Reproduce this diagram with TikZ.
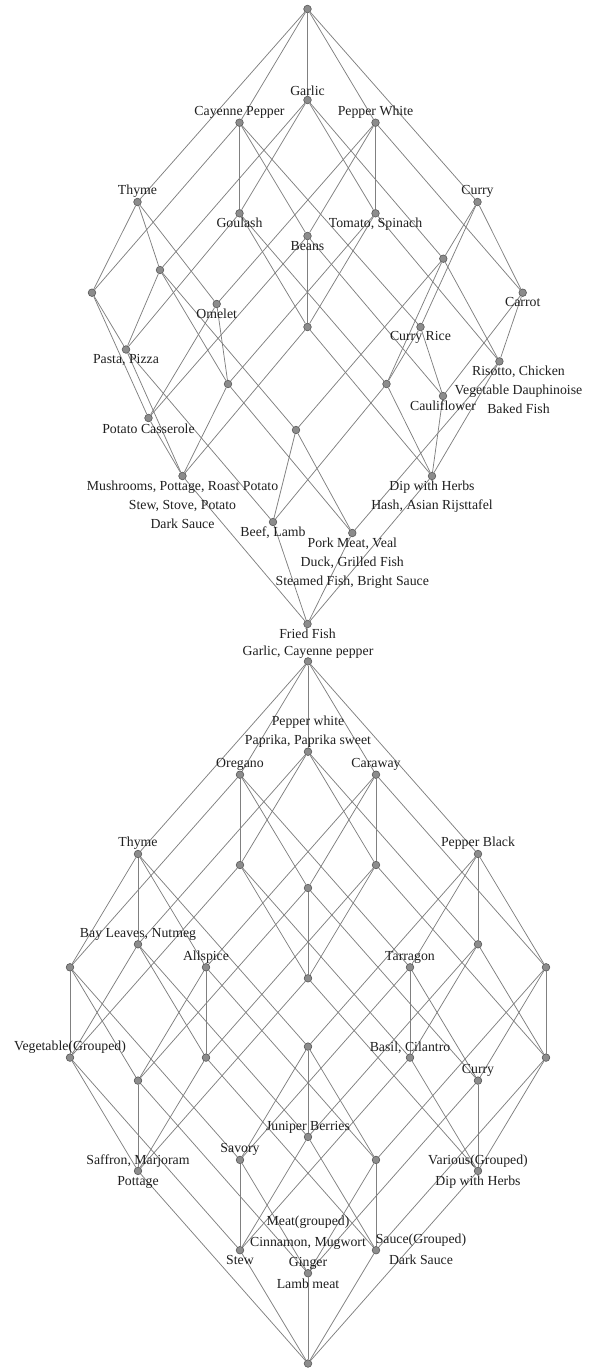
\documentclass[tikz,border=0pt]{standalone}
\usepackage{fontspec}
\setmainfont{Liberation Serif}
\begin{document}
\begin{tikzpicture}[x=1pt,y=-1pt,
  vtx/.style={circle,draw=black!66,fill=black!45,line width=0.6pt,inner sep=0pt,minimum size=7.6pt},
  lbl/.style={font=\fontsize{13.8}{19}\selectfont,text=black!88,inner sep=0pt,text height=10.6pt,text depth=2pt},
  edge/.style={draw=black!50,line width=0.75pt}]
\useasboundingbox (0,0) rectangle (591,1368);

% ---------- first lattice: nodes ----------
\node[vtx] (aTop) at (307.5,9) {};
\node[vtx] (aG)  at (307.5,100) {};
\node[vtx] (aC)  at (239.5,122.7) {};
\node[vtx] (aP)  at (375.5,122.7) {};
\node[vtx] (aT)  at (137.5,202) {};
\node[vtx] (aCu) at (477.5,202) {};
\node[vtx] (aGo) at (239.5,213.3) {};
\node[vtx] (aTS) at (375.5,213.3) {};
\node[vtx] (aB)  at (307.5,236) {};
\node[vtx] (aa)  at (160,270) {};
\node[vtx] (ab)  at (443.3,258.7) {};
\node[vtx] (ac)  at (92,292.7) {};
\node[vtx] (aCa) at (522.7,292.7) {};
\node[vtx] (aO)  at (216.7,304) {};
\node[vtx] (ad)  at (307.5,327) {};
\node[vtx] (aCR) at (420.5,327) {};
\node[vtx] (aPP) at (126,349.5) {};
\node[vtx] (aR)  at (499.4,361.4) {};
\node[vtx] (ae)  at (228,384) {};
\node[vtx] (af)  at (386.5,384) {};
\node[vtx] (aCf) at (443,396) {};
\node[vtx] (aPC) at (148.5,418) {};
\node[vtx] (ag)  at (296,430) {};
\node[vtx] (aM)  at (182.5,476) {};
\node[vtx] (aDH) at (432,476) {};
\node[vtx] (aBL) at (273,522) {};
\node[vtx] (aPM) at (352.3,533) {};
\node[vtx] (aFF) at (307.5,624) {};

% ---------- first lattice: edges ----------
\foreach \u/\v in {aTop/aG,aTop/aC,aTop/aP,aTop/aT,aTop/aCu,
  aGo/aG,aGo/aC,aTS/aG,aTS/aP,aB/aC,aB/aP,aa/aG,aa/aT,ab/aG,ab/aCu,
  ac/aC,ac/aT,aO/aP,aO/aT,aCa/aP,aCa/aCu,aCR/aC,aCR/aCu,
  ad/aGo,ad/aTS,ad/aB,aPP/aGo,aPP/aa,aPP/ac,aPC/aB,aPC/ac,aPC/aO,
  ae/aTS,ae/aa,ae/aO,aR/aTS,aR/ab,aR/aCa,aCf/aB,aCf/aCa,aCf/aCR,
  af/aGo,af/ab,af/aCR,ag/aa,ag/ab,
  aM/ad,aM/aPP,aM/aPC,aM/ae,aDH/ad,aDH/aR,aDH/aCf,aDH/af,
  aBL/aPP,aBL/af,aBL/ag,aPM/ae,aPM/aR,aPM/ag,
  aFF/aM,aFF/aDH,aFF/aBL,aFF/aPM}
  \draw[edge] (\u) -- (\v);

% ---------- first lattice: labels ----------
\node[lbl] (l1a) at (307.5,91.5) {Garlic};
\node[lbl] (l1b) at (239.5,110.7) {Cayenne Pepper};
\node[lbl] (l1c) at (375.5,110.7) {Pepper White};
\node[lbl] (l1d) at (137.5,190) {Thyme};
\node[lbl] (l1e) at (477.5,190) {Curry};
\node[lbl] (l1f) at (239.5,222.7) {Goulash};
\node[lbl] (l1g) at (375.5,222.7) {Tomato, Spinach};
\node[lbl] (l1h) at (307.5,246) {Beans};
\node[lbl] (l1i) at (522.7,301.7) {Carrot};
\node[lbl] (l1j) at (216.7,313.7) {Omelet};
\node[lbl] (l1k) at (420.5,336) {Curry Rice};
\node[lbl] (l1l) at (126,359.5) {Pasta, Pizza};
\node[lbl] (l1m) at (518.5,371) {Risotto, Chicken};
\node[lbl] (l1n) at (518.5,390) {Vegetable Dauphinoise};
\node[lbl] (l1o) at (518.5,409) {Baked Fish};
\node[lbl] (l1p) at (443,406) {Cauliflower};
\node[lbl] (l1q) at (148.5,429) {Potato Casserole};
\node[lbl] (l1r) at (182.5,486) {Mushrooms, Pottage, Roast Potato};
\node[lbl] (l1s) at (182.5,505) {Stew, Stove, Potato};
\node[lbl] (l1t) at (182.5,524) {Dark Sauce};
\node[lbl] (l1u) at (432,486) {Dip with Herbs};
\node[lbl] (l1v) at (432,505) {Hash, Asian Rijsttafel};
\node[lbl] (l1w) at (273,532.5) {Beef, Lamb};
\node[lbl] (l1x) at (352.3,543) {Pork Meat, Veal};
\node[lbl] (l1y) at (352.3,562) {Duck, Grilled Fish};
\node[lbl] (l1z) at (352.3,581) {Steamed Fish, Bright Sauce};
\node[lbl] (l1aa) at (307.5,634) {Fried Fish};

% ---------- second lattice: nodes (Boolean lattice) ----------
\node[vtx] (bE) at (308,1363.5) {};
\node[vtx] (bp) at (138,1170.9) {};
\node[vtx] (bs) at (240,1250.2) {};
\node[vtx] (bl) at (308,1273.2) {};
\node[vtx] (bd) at (376,1250.2) {};
\node[vtx] (bv) at (478,1170.9) {};
\node[vtx] (bps) at (70,1057.6) {};
\node[vtx] (bpl) at (138,1080.6) {};
\node[vtx] (bpd) at (206,1057.6) {};
\node[vtx] (bpv) at (308,978.3) {};
\node[vtx] (bsl) at (240,1159.9) {};
\node[vtx] (bsd) at (308,1136.9) {};
\node[vtx] (bsv) at (410,1057.6) {};
\node[vtx] (bld) at (376,1159.9) {};
\node[vtx] (blv) at (478,1080.6) {};
\node[vtx] (bdv) at (546,1057.6) {};
\node[vtx] (bpsl) at (70,967.3) {};
\node[vtx] (bpsd) at (138,944.3) {};
\node[vtx] (bpsv) at (240,865) {};
\node[vtx] (bpld) at (206,967.3) {};
\node[vtx] (bplv) at (308,888) {};
\node[vtx] (bpdv) at (376,865) {};
\node[vtx] (bsld) at (308,1046.6) {};
\node[vtx] (bslv) at (410,967.3) {};
\node[vtx] (bsdv) at (478,944.3) {};
\node[vtx] (bldv) at (546,967.3) {};
\node[vtx] (bpsld) at (138,854) {};
\node[vtx] (bpslv) at (240,774.7) {};
\node[vtx] (bpsdv) at (308,751.7) {};
\node[vtx] (bpldv) at (376,774.7) {};
\node[vtx] (bsldv) at (478,854) {};
\node[vtx] (bpsldv) at (308,661.4) {};

% ---------- second lattice: edges ----------
\foreach \u/\v in {bE/bp,bs/bps,bl/bpl,bd/bpd,bv/bpv,bsl/bpsl,bsd/bpsd,bsv/bpsv,
  bld/bpld,blv/bplv,bdv/bpdv,bsld/bpsld,bslv/bpslv,bsdv/bpsdv,bldv/bpldv,bsldv/bpsldv,
  bE/bs,bp/bps,bl/bsl,bd/bsd,bv/bsv,bpl/bpsl,bpd/bpsd,bpv/bpsv,
  bld/bsld,blv/bslv,bdv/bsdv,bpld/bpsld,bplv/bpslv,bpdv/bpsdv,bldv/bsldv,bpldv/bpsldv,
  bE/bl,bp/bpl,bs/bsl,bd/bld,bv/blv,bps/bpsl,bpd/bpld,bpv/bplv,
  bsd/bsld,bsv/bslv,bdv/bldv,bpsd/bpsld,bpsv/bpslv,bpdv/bpldv,bsdv/bsldv,bpsdv/bpsldv,
  bE/bd,bp/bpd,bs/bsd,bl/bld,bv/bdv,bps/bpsd,bpl/bpld,bpv/bpdv,
  bsl/bsld,bsv/bsdv,blv/bldv,bpsl/bpsld,bpsv/bpsdv,bplv/bpldv,bslv/bsldv,bpslv/bpsldv,
  bE/bv,bp/bpv,bs/bsv,bl/blv,bd/bdv,bps/bpsv,bpl/bplv,bpd/bpdv,
  bsl/bslv,bsd/bsdv,bld/bldv,bpsl/bpslv,bpsd/bpsdv,bpld/bpldv,bsld/bsldv,bpsld/bpsldv}
  \draw[edge] (\u) -- (\v);

% ---------- second lattice: labels ----------
\node[lbl] (m1) at (308,651.5) {Garlic, Cayenne pepper};
\node[lbl] (m2) at (308,721) {Pepper white};
\node[lbl] (m3) at (308,740) {Paprika, Paprika sweet};
\node[lbl] (m4) at (240,763) {Oregano};
\node[lbl] (m5) at (376,763) {Caraway};
\node[lbl] (m6) at (138,842) {Thyme};
\node[lbl] (m7) at (478,842) {Pepper Black};
\node[lbl] (m8) at (138,933) {Bay Leaves, Nutmeg};
\node[lbl] (m9) at (206,956) {Allspice};
\node[lbl] (m10) at (410,956) {Tarragon};
\node[lbl] (m11) at (70,1046.5) {Vegetable(Grouped)};
\node[lbl] (m12) at (410,1047) {Basil, Cilantro};
\node[lbl] (m13) at (478,1069.5) {Curry};
\node[lbl] (m14) at (308,1126) {Juniper Berries};
\node[lbl] (m15) at (240,1148.5) {Savory};
\node[lbl] (m16) at (138,1160) {Saffron, Marjoram};
\node[lbl] (m17) at (138,1181) {Pottage};
\node[lbl] (m18) at (478,1160) {Various(Grouped)};
\node[lbl] (m19) at (478,1181) {Dip with Herbs};
\node[lbl] (m20) at (308,1221) {Meat(grouped)};
\node[lbl] (m21) at (308,1242.5) {Cinnamon, Mugwort};
\node[lbl] (m22) at (308,1262) {Ginger};
\node[lbl] (m23) at (308,1284) {Lamb meat};
\node[lbl] (m24) at (421,1239) {Sauce(Grouped)};
\node[lbl] (m25) at (421,1260.5) {Dark Sauce};
\node[lbl] (m26) at (240,1260) {Stew};
\end{tikzpicture}
\end{document}
